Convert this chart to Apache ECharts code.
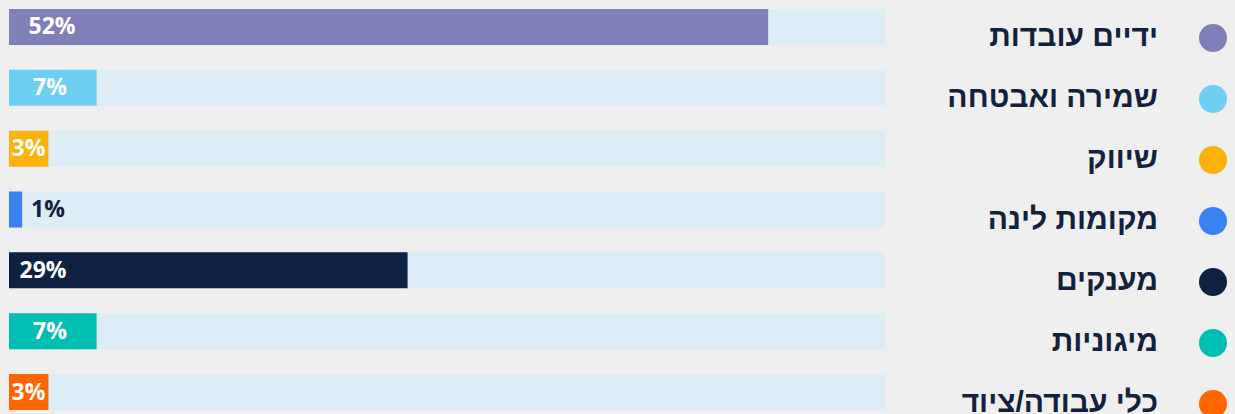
<!DOCTYPE html>
<html>
<head>
<meta charset="utf-8">
<script src="https://cdn.jsdelivr.net/npm/echarts@6/dist/echarts.min.js"></script>
<style>
  html, body { margin: 0; padding: 0; background: #efefef; }
  #chart { width: 1235px; height: 414px; }
</style>
</head>
<body>
<div id="chart"></div>
<script>
var categories = ['ידיים עובדות', 'שמירה ואבטחה', 'שיווק', 'מקומות לינה', 'מענקים', 'מיגוניות', 'כלי עבודה/ציוד'];
var values = [52, 6, 2.7, 0.9, 27.3, 6, 2.7];
var valueLabels = ['52%', '7%', '3%', '1%', '29%', '7%', '3%'];

var colors = ['#8080b9', '#6dcff2', '#fbb20a', '#3b82f0', '#0f2142', '#00bfb2', '#ff6600'];
var ink = '#14213d';
// label centre, measured from the bar's left edge
var labelX = [43, 41, 19.5, 39, 34, 41, 19.5];

var chart = echarts.init(document.getElementById('chart'), null, { renderer: 'svg' });

var rich = {
  t: { fontSize: 30, color: ink, fontFamily: 'Liberation Sans', fontWeight: 'bold', padding: [0, 0, 6, 0] },
  g: { width: 41 }
};
colors.forEach(function(c, i) {
  rich['d' + i] = { width: 28, height: 28, borderRadius: 14, backgroundColor: c };
});

chart.setOption({
  animation: false,
  backgroundColor: '#efefef',
  grid: [
    { left: 9, right: 350, top: -3.5, height: 426, outerBoundsMode: 'none' },
    { left: 1227, right: 0, top: 7.5, height: 427, outerBoundsMode: 'none' }
  ],
  xAxis: [
    { type: 'value', min: 0, max: 60, show: false },
    { type: 'value', gridIndex: 1, show: false }
  ],
  yAxis: [
    { type: 'category', data: categories, inverse: true, show: false },
    {
      type: 'category', gridIndex: 1, data: categories, inverse: true, position: 'left',
      axisLine: { show: false }, axisTick: { show: false },
      axisLabel: {
        margin: 0,
        formatter: function(v, i) { return '{t|' + v + '}{g|}{d' + i + '|}'; },
        rich: rich
      }
    }
  ],
  series: [{
    type: 'bar',
    barWidth: 36,
    showBackground: true,
    backgroundStyle: { color: '#dcedf6' },
    data: values.map(function(v, i) {
      return {
        value: v,
        itemStyle: { color: colors[i] },
        label: {
          show: true,
          formatter: valueLabels[i],
          position: [labelX[i], '46%'],
          align: 'center',
          verticalAlign: 'middle',
          color: i === 3 ? ink : '#ffffff',
          fontFamily: 'Open Sans',
          fontWeight: 'bold',
          fontSize: 23
        }
      };
    })
  }]
});
window.addEventListener('resize', function() { chart.resize(); });
</script>
</body>
</html>
